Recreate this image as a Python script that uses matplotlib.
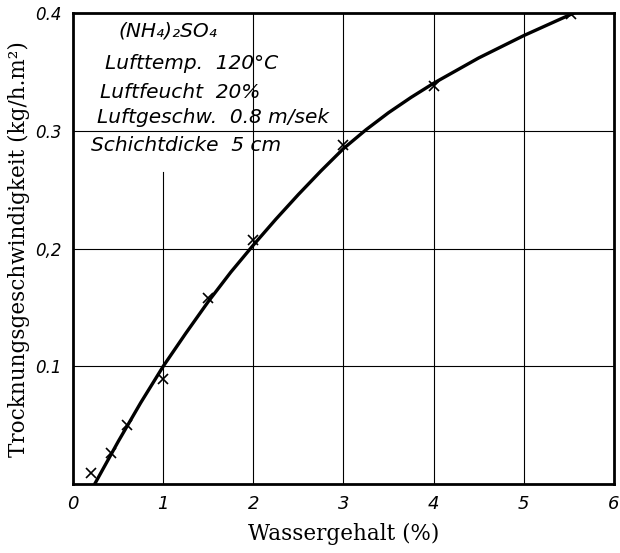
import matplotlib
matplotlib.use("Agg")
import matplotlib.pyplot as plt

# measured points (crosses)
water = [0.2, 0.42, 0.6, 1.0, 1.5, 2.0, 3.0, 4.0, 5.53]
rate = [0.009, 0.026, 0.05, 0.089, 0.158, 0.207, 0.288, 0.338, 0.399]

# drawn curve
curve_x = [0.24, 0.5, 0.75, 1.0, 1.25, 1.5, 1.75, 2.0, 2.25, 2.5, 2.75,
           3.0, 3.25, 3.5, 3.75, 4.0, 4.5, 5.0, 5.55]
curve_y = [0.0, 0.036, 0.069, 0.1, 0.128, 0.155, 0.18, 0.203, 0.225, 0.246, 0.266,
           0.285, 0.301, 0.3155, 0.3285, 0.3405, 0.362, 0.381, 0.4]

xticks = [0, 1, 2, 3, 4, 5, 6]
yticks = [0.1, 0.2, 0.3, 0.4]
ytick_labels = ["0.1", "0,2", "0.3", "0.4"]

notes = ["(NH\u2084)\u2082SO\u2084",
         "Lufttemp.  120\u00b0C",
         "Luftfeucht  20%",
         "Luftgeschw.  0.8 m/sek",
         "Schichtdicke  5 cm"]
note_pos = [(0.5, 0.385), (0.35, 0.357), (0.3, 0.333), (0.27, 0.311), (0.2, 0.288)]

fig = plt.figure(figsize=(6.2, 5.53), dpi=100)
ax = fig.add_axes([0.118, 0.125, 0.872, 0.851])

# grid, x=1 line stops under the text block
for xv in xticks[1:-1]:
    top = 0.265 if xv == 1 else 0.4
    ax.plot([xv, xv], [0, top], color="black", lw=0.8, zorder=1)
for yv in yticks[:-1]:
    ax.axhline(yv, color="black", lw=0.8, zorder=1)

ax.plot(curve_x, curve_y, color="black", lw=2.4, zorder=2)
ax.plot(water, rate, "x", color="black", ms=7, mew=1.2, zorder=3)

ax.set_xlim(0, 6)
ax.set_ylim(0, 0.4)
ax.set_xticks(xticks)
ax.set_xticklabels([str(t) for t in xticks], style="italic", fontsize=13)
ax.set_yticks(yticks)
ax.set_yticklabels(ytick_labels, style="italic", fontsize=12)
ax.tick_params(length=0, pad=8)

for s in ax.spines.values():
    s.set_linewidth(2)

ax.set_xlabel("Wassergehalt (%)", family="DejaVu Serif", fontsize=15.5, labelpad=7)
ax.set_ylabel("Trocknungsgeschwindigkeit (kg/h.m\u00b2)", family="DejaVu Serif",
              fontsize=15.5, labelpad=4)

for t, (px, py) in zip(notes, note_pos):
    ax.text(px, py, t, style="italic", fontsize=14.5, va="center", ha="left", zorder=4)

fig.savefig("out.png", dpi=100)
